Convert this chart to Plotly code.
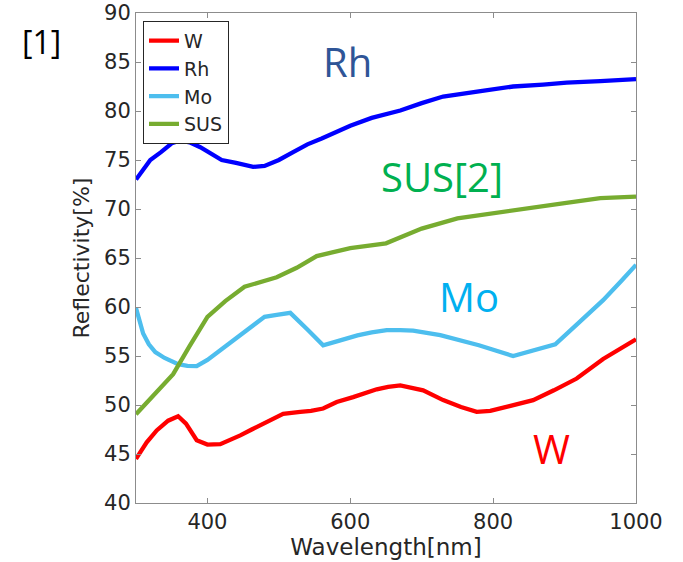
import plotly.graph_objects as go

# ---- data ----
w_x = [300, 315, 329, 345, 359, 370, 385, 400, 418, 432, 446, 462, 478, 492, 506, 530, 545, 562, 581, 604, 620, 637, 653, 670, 702, 730, 755, 777, 796, 826, 856, 885, 917, 954, 980, 1000]
w_y = [44.5, 46.2, 47.4, 48.4, 48.85, 48.1, 46.4, 45.96, 46.0, 46.4, 46.9, 47.5, 48.1, 48.6, 49.1, 49.3, 49.4, 49.64, 50.3, 50.8, 51.2, 51.6, 51.85, 52.0, 51.5, 50.5, 49.8, 49.3, 49.4, 49.9, 50.5, 51.5, 52.7, 54.7, 55.8, 56.7]

rh_x = [300, 310, 320, 335, 350, 362, 375, 390, 405, 420, 440, 464, 480, 500, 520, 540, 560, 580, 600, 630, 670, 700, 730, 780, 828, 870, 903, 950, 1000]
rh_y = [73.0, 74.0, 75.0, 75.8, 76.7, 77.0, 76.8, 76.3, 75.7, 75.0, 74.7, 74.3, 74.4, 75.0, 75.8, 76.6, 77.2, 77.9, 78.5, 79.3, 80.05, 80.8, 81.48, 82.0, 82.5, 82.7, 82.9, 83.05, 83.25]

mo_x = [300, 305, 310, 318, 327, 340, 359, 372, 385, 400, 418, 440, 460, 480, 497, 516, 540, 562, 586, 610, 630, 651, 670, 688, 726, 780, 828, 860, 887, 920, 954, 980, 1000]
mo_y = [59.9, 58.4, 57.3, 56.2, 55.4, 54.8, 54.17, 54.0, 53.96, 54.6, 55.6, 56.9, 58.0, 59.0, 59.2, 59.4, 57.7, 56.1, 56.6, 57.1, 57.4, 57.64, 57.64, 57.6, 57.13, 56.1, 54.99, 55.6, 56.2, 58.4, 60.7, 62.7, 64.3]

sus_x = [300, 325, 352, 375, 400, 425, 452, 497, 525, 553, 600, 650, 700, 750, 800, 850, 900, 950, 1000]
sus_y = [49.06, 51.0, 53.15, 56.0, 59.0, 60.6, 62.07, 63.03, 64.0, 65.2, 66.0, 66.5, 68.0, 69.05, 69.6, 70.1, 70.6, 71.1, 71.26]

series = [
    ("W", w_x, w_y, "#FF0000"),
    ("Rh", rh_x, rh_y, "#0000FF"),
    ("Mo", mo_x, mo_y, "#4DBEEE"),
    ("SUS", sus_x, sus_y, "#77AC30"),
]

labels = [
    ("Rh", 595.4, 85.1, "#2F5597"),
    ("SUS[2]", 727.7, 73.3, "#00B050"),
    ("Mo", 766.2, 61.1, "#00B0F0"),
    ("W", 882.0, 45.6, "#FF0000"),
]

x_ticks = [400, 600, 800, 1000]
y_ticks = [40, 45, 50, 55, 60, 65, 70, 75, 80, 85, 90]

fig = go.Figure()
for name, xs, ys, col in series:
    fig.add_trace(go.Scatter(x=xs, y=ys, mode="lines", name=name,
                             line=dict(color=col, width=4.3)))

for txt, lx, ly, col in labels:
    fig.add_annotation(x=lx, y=ly, xref="x", yref="y", text=txt, showarrow=False,
                       font=dict(family="Open Sans", size=40, color=col),
                       xanchor="center", yanchor="middle")

fig.add_annotation(x=-0.189, y=0.942, xref="paper", yref="paper", text="[1]",
                   showarrow=False, font=dict(family="Open Sans", size=32, color="black"),
                   xanchor="center", yanchor="middle")

axis_common = dict(showline=True, linecolor="#8c8c8c", linewidth=1, mirror="ticks",
                   ticks="inside", ticklen=5, tickcolor="#8c8c8c", tickwidth=1,
                   showgrid=False, zeroline=False, automargin=False,
                   tickfont=dict(family="DejaVu Sans", size=21, color="#262626"))

fig.update_xaxes(range=[300, 1000], tickvals=x_ticks,
                 title=dict(text="Wavelength[nm]", standoff=2,
                            font=dict(family="DejaVu Sans", size=23, color="#262626")),
                 **axis_common)
fig.update_yaxes(range=[40, 90], tickvals=y_ticks,
                 title=dict(text="Reflectivity[%]", standoff=8,
                            font=dict(family="DejaVu Sans", size=22, color="#262626")),
                 **axis_common)

fig.update_layout(
    width=683, height=562,
    margin=dict(l=136, r=47, t=13, b=59, autoexpand=False),
    paper_bgcolor="white", plot_bgcolor="white",
    showlegend=True,
    legend=dict(x=0.014, y=0.984, xanchor="left", yanchor="top",
                bgcolor="white", bordercolor="#262626", borderwidth=1,
                font=dict(family="DejaVu Sans", size=19, color="#262626"),
                tracegroupgap=0, itemwidth=30),
)

fig.write_html("out.html")
